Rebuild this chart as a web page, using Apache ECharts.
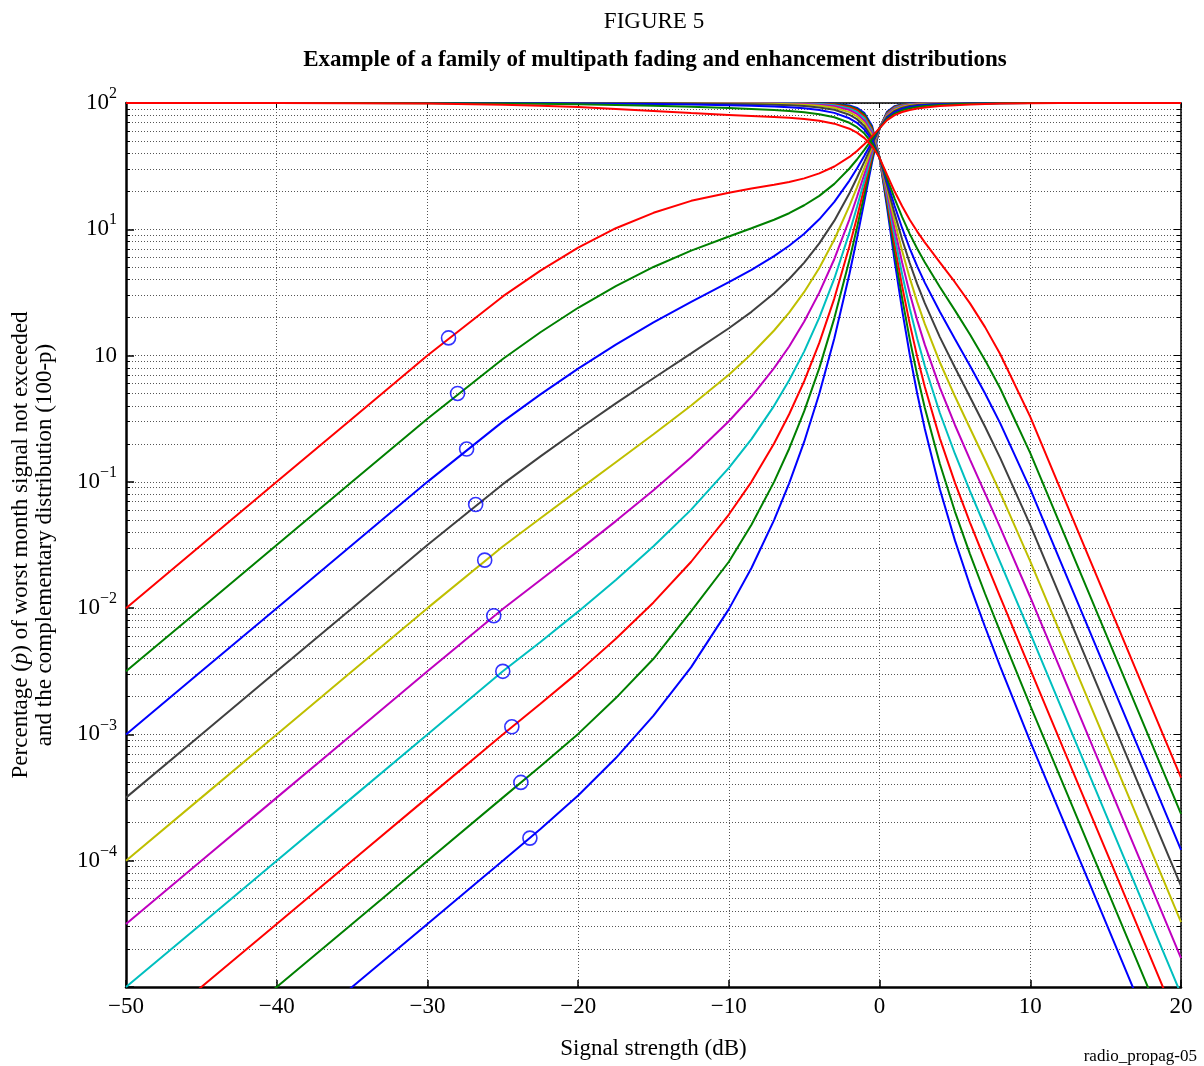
<!DOCTYPE html>
<html>
<head>
<meta charset="utf-8">
<script src="https://cdn.jsdelivr.net/npm/echarts@6/dist/echarts.min.js"></script>
<style>
html, body { margin: 0; padding: 0; background: #fff; }
#chart { width: 1204px; height: 1066px; }
</style>
</head>
<body>
<div id="chart"></div>
<script>
// signal strength grids (dB): fading side and enhancement side
var fadeX = [-50, -45, -40, -35, -30, -25, -22.5, -20, -17.5, -15, -12.5, -10, -8.5, -7, -6, -5, -4, -3, -2, -1.5, -1, -0.5, 0];
var enhX = [0, 0.5, 1, 1.5, 2, 2.5, 3, 4, 5, 6, 7, 8, 10, 12, 14, 16, 18, 20];

// % of time signal not exceeded (fading), one array per curve
var fade1 = [0.01, 0.0316, 0.1, 0.316, 1.0, 2.94, 4.71, 7.15, 10.2, 13.5, 16.8, 19.5, 21.0, 22.5, 23.7, 25.3, 27.7, 31.4, 37.4, 41.7, 47.3, 54.4, 63.2];
var fade2 = [0.00316, 0.01, 0.0316, 0.1, 0.316, 0.939, 1.53, 2.39, 3.55, 5.03, 6.77, 8.76, 10.2, 11.9, 13.4, 15.5, 18.4, 22.9, 30.3, 35.7, 42.7, 51.8, 63.2];
var fade3 = [0.001, 0.00316, 0.01, 0.0316, 0.1, 0.30, 0.493, 0.789, 1.22, 1.83, 2.66, 3.82, 4.78, 6.13, 7.41, 9.23, 12.0, 16.5, 24.3, 30.3, 38.4, 49.3, 63.2];
var fade4 = [0.000316, 0.001, 0.00316, 0.01, 0.0316, 0.0959, 0.159, 0.260, 0.418, 0.661, 1.04, 1.645, 2.22, 3.12, 4.04, 5.45, 7.73, 11.7, 19.3, 25.6, 34.5, 46.9, 63.2];
var fade5 = [0.0001, 0.000316, 0.001, 0.00316, 0.01, 0.0308, 0.0515, 0.086, 0.143, 0.238, 0.402, 0.705, 1.03, 1.58, 2.19, 3.19, 4.94, 8.30, 15.3, 21.5, 30.8, 44.6, 63.2];
var fade6 = [3.16e-5, 0.0001, 0.000316, 0.001, 0.00316, 0.00985, 0.0167, 0.0284, 0.0489, 0.0858, 0.156, 0.302, 0.474, 0.795, 1.18, 1.86, 3.15, 5.82, 12.0, 18.0, 27.5, 42.3, 63.2];
var fade7 = [1e-5, 3.16e-5, 0.0001, 0.000316, 0.001, 0.00316, 0.00539, 0.00938, 0.0167, 0.0309, 0.0603, 0.129, 0.218, 0.400, 0.637, 1.08, 2.00, 4.08, 9.40, 15.0, 24.4, 40.1, 63.2];
var fade8 = [3.16e-6, 1e-5, 3.16e-5, 0.0001, 0.000316, 0.001, 0.00175, 0.0031, 0.00572, 0.0111, 0.0233, 0.0551, 0.100, 0.201, 0.343, 0.628, 1.26, 2.84, 7.34, 12.4, 21.7, 38.0, 63.2];
var fade9 = [1e-6, 3.16e-6, 1e-5, 3.16e-5, 0.0001, 0.000316, 0.000559, 0.00101, 0.00194, 0.00397, 0.00947, 0.0233, 0.0458, 0.100, 0.183, 0.363, 0.795, 1.98, 5.70, 10.3, 19.1, 35.9, 63.2];
var fade10 = [3.16e-7, 1e-6, 3.16e-6, 1e-5, 3.16e-5, 0.0001, 0.000178, 0.000328, 0.00065, 0.00141, 0.00341, 0.00982, 0.0208, 0.0498, 0.0973, 0.208, 0.498, 1.37, 4.42, 8.48, 16.9, 33.9, 63.2];

// % of time signal exceeded (enhancement), one array per curve
var enh1 = [36.8, 26.9, 19.9, 15.2, 11.9, 9.59, 7.87, 5.46, 3.81, 2.59, 1.68, 1.03, 0.327, 0.0877, 0.0235, 0.00631, 0.00169, 0.000454];
var enh2 = [36.8, 25.3, 17.5, 12.5, 9.20, 7.01, 5.48, 3.49, 2.28, 1.47, 0.920, 0.551, 0.169, 0.0454, 0.0122, 0.00327, 0.000877, 0.000235];
var enh3 = [36.8, 23.8, 15.3, 10.2, 7.07, 5.09, 3.78, 2.22, 1.355, 0.832, 0.501, 0.292, 0.0877, 0.0235, 0.00631, 0.00169, 0.000454, 0.000122];
var enh4 = [36.8, 22.3, 13.3, 8.30, 5.41, 3.68, 2.60, 1.40, 0.804, 0.470, 0.273, 0.155, 0.0454, 0.0122, 0.00327, 0.000877, 0.000235, 6.31e-5];
var enh5 = [36.8, 20.9, 11.6, 6.73, 4.12, 2.65, 1.78, 0.885, 0.476, 0.266, 0.149, 0.0822, 0.0235, 0.00631, 0.00169, 0.000454, 0.000122, 3.27e-5];
var enh6 = [36.8, 19.5, 10.1, 5.44, 3.12, 1.90, 1.22, 0.558, 0.282, 0.150, 0.081, 0.0436, 0.0122, 0.00327, 0.000877, 0.000235, 6.31e-5, 1.69e-5];
var enh7 = [36.8, 18.2, 8.72, 4.39, 2.37, 1.36, 0.831, 0.351, 0.167, 0.0844, 0.0441, 0.0231, 0.00631, 0.00169, 0.000454, 0.000122, 3.27e-5, 8.77e-6];
var enh8 = [36.8, 17.0, 7.53, 3.53, 1.79, 0.976, 0.567, 0.221, 0.0985, 0.0476, 0.024, 0.0123, 0.00327, 0.000877, 0.000235, 6.31e-5, 1.69e-5, 4.54e-6];
var enh9 = [36.8, 15.9, 6.50, 2.84, 1.35, 0.698, 0.386, 0.139, 0.0582, 0.0268, 0.013, 0.00651, 0.00169, 0.000454, 0.000122, 3.27e-5, 8.77e-6, 2.35e-6];
var enh10 = [36.8, 14.8, 5.60, 2.28, 1.02, 0.499, 0.263, 0.0874, 0.0344, 0.0151, 0.00709, 0.00346, 0.000877, 0.000235, 6.31e-5, 1.69e-5, 4.54e-6, 1.22e-6];

// transition points marked with circles
var circleX = [-28.6, -28.0, -27.4, -26.8, -26.2, -25.6, -25.0, -24.4, -23.8, -23.2];
var circleY = [1.38, 0.501, 0.182, 0.0661, 0.024, 0.00871, 0.00316, 0.00115, 0.000417, 0.000151];

var colors = ['#ff0000', '#008000', '#0000ff', '#404040', '#bfbf00', '#bf00bf', '#00bfbf', '#ff0000', '#008000', '#0000ff'];

var fades = [fade1, fade2, fade3, fade4, fade5, fade6, fade7, fade8, fade9, fade10];
var enhs = [enh1, enh2, enh3, enh4, enh5, enh6, enh7, enh8, enh9, enh10];

var serif = '"Liberation Serif", "Times New Roman", serif';
var gridLine = { color: '#555', type: [1, 2], width: 1 };

var series = [];
// last curve first so the red one ends up on top, as in the figure
for (var k = fades.length - 1; k >= 0; k--) {
  var fd = fades[k];
  var en = enhs[k];
  var cdf = [];
  var ccdf = [];
  fadeX.forEach(function(x, i) {
    cdf.push([x, fd[i]]);
    ccdf.push([x, 100 - fd[i]]);
  });
  enhX.forEach(function(x, i) {
    if (i === 0) return;
    cdf.push([x, 100 - en[i]]);
    ccdf.push([x, en[i]]);
  });
  [cdf, ccdf].forEach(function(d) {
    series.push({
      type: 'line',
      data: d,
      showSymbol: false,
      clip: true,
      lineStyle: { color: colors[k], width: 2 },
      itemStyle: { color: colors[k] },
      z: 3
    });
  });
}

series.push({
  type: 'scatter',
  data: circleX.map(function(x, i) { return [x, circleY[i]]; }),
  symbol: 'circle',
  symbolSize: 14,
  itemStyle: { color: 'rgba(0,0,0,0)', borderColor: '#0000ff', borderWidth: 1.6 },
  z: 5
});

function yLabel(v) {
  var e = Math.round(Math.log(v) / Math.LN10);
  if (e === -5) return '';
  if (e === 0) return '{b|10}';
  return '{b|10}{s|' + (e < 0 ? '\u2212' + (-e) : e) + '}';
}

var option = {
  animation: false,
  backgroundColor: '#fff',
  grid: { left: 126, right: 23, top: 103, bottom: 79 },
  xAxis: [
    {
      type: 'value',
      min: -50,
      max: 20,
      interval: 10,
      position: 'bottom',
      axisLine: { onZero: false, lineStyle: { color: '#000', width: 2.5 } },
      axisTick: { inside: true, length: 7, lineStyle: { color: '#000', width: 1.5 } },
      splitLine: { show: true, lineStyle: gridLine },
      axisLabel: {
        margin: 8,
        fontFamily: serif,
        fontSize: 23,
        color: '#000',
        formatter: function(v) { return v < 0 ? '\u2212' + (-v) : '' + v; }
      },
      name: 'Signal strength (dB)',
      nameLocation: 'middle',
      nameGap: 50,
      nameTextStyle: { fontFamily: serif, fontSize: 23, color: '#000' }
    },
    {
      type: 'value',
      min: -50,
      max: 20,
      interval: 10,
      position: 'top',
      axisLine: { onZero: false, lineStyle: { color: '#000', width: 1.5 } },
      axisTick: { inside: true, length: 5, lineStyle: { color: '#000' } },
      splitLine: { show: false },
      axisLabel: { show: false }
    }
  ],
  yAxis: [
    {
      type: 'log',
      logBase: 10,
      min: 1e-5,
      max: 100,
      position: 'left',
      axisLine: { onZero: false, lineStyle: { color: '#000', width: 2.5 } },
      axisTick: { inside: true, length: 8, lineStyle: { color: '#000', width: 1.5 } },
      minorTick: { show: true, splitNumber: 9, length: 4, lineStyle: { color: '#000' } },
      splitLine: { show: true, lineStyle: gridLine },
      minorSplitLine: { show: true, lineStyle: gridLine },
      axisLabel: {
        margin: 9,
        formatter: yLabel,
        rich: {
          b: { fontFamily: serif, fontSize: 23, color: '#000', lineHeight: 34 },
          s: { fontFamily: serif, fontSize: 16, color: '#000', verticalAlign: 'top', lineHeight: 16 }
        }
      },
      name: '{n|Percentage (}{i|p}{n|) of worst month signal not exceeded}\n{n|and the complementary distribution (100-p)}',
      nameLocation: 'middle',
      nameRotate: 90,
      nameGap: 69,
      nameTextStyle: {
        rich: {
          n: { fontFamily: serif, fontSize: 23, color: '#000', lineHeight: 24 },
          i: { fontFamily: serif, fontSize: 23, fontStyle: 'italic', color: '#000', lineHeight: 24 }
        }
      }
    },
    {
      type: 'log',
      logBase: 10,
      min: 1e-5,
      max: 100,
      position: 'right',
      axisLine: { onZero: false, lineStyle: { color: '#000', width: 1.5 } },
      axisTick: { inside: true, length: 7, lineStyle: { color: '#000' } },
      minorTick: { show: true, splitNumber: 9, length: 4, lineStyle: { color: '#000' } },
      splitLine: { show: false },
      axisLabel: { show: false }
    }
  ],
  graphic: [
    {
      type: 'text', x: 654, y: 22,
      style: { text: 'FIGURE 5', font: '23px ' + serif, fill: '#000', textAlign: 'center', align: 'center', textVerticalAlign: 'middle', verticalAlign: 'middle' }
    },
    {
      type: 'text', x: 655, y: 60,
      style: { text: 'Example of a family of multipath fading and enhancement distributions', font: 'bold 23px ' + serif, fill: '#000', textAlign: 'center', align: 'center', textVerticalAlign: 'middle', verticalAlign: 'middle' }
    },
    {
      type: 'text', x: 1197, y: 1057,
      style: { text: 'radio_propag-05', font: '17px ' + serif, fill: '#000', textAlign: 'right', align: 'right', textVerticalAlign: 'middle', verticalAlign: 'middle' }
    }
  ],
  series: series
};

var chart = echarts.init(document.getElementById('chart'));
chart.setOption(option);
</script>
</body>
</html>
